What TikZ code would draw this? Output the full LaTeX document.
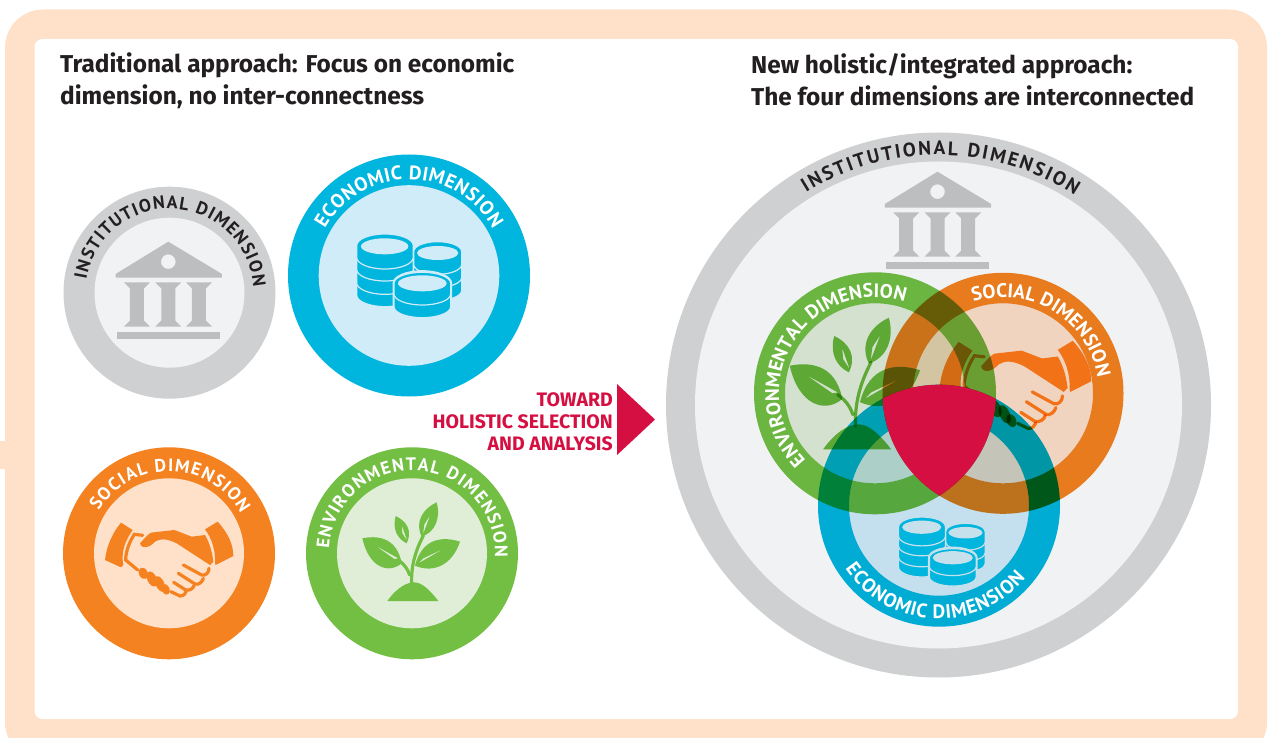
\documentclass[tikz,border=0pt]{standalone}
\usepackage{fontspec}
\setmainfont{Fira Sans}
\newfontfamily\ringfam{PT Sans}
\usetikzlibrary{decorations.text}

\definecolor{framepeach}{HTML}{FFE0C9}
\definecolor{instgray}{HTML}{CFD0D2}
\definecolor{instlight}{HTML}{F1F2F4}
\definecolor{bankgray}{HTML}{BCBEC0}
\definecolor{econblue}{HTML}{00B5DE}
\definecolor{econlight}{HTML}{D0ECF8}
\definecolor{econmuted}{HTML}{C6E0EC}
\definecolor{socorange}{HTML}{F58220}
\definecolor{soclight}{HTML}{FFE0C8}
\definecolor{handorange}{HTML}{FF8A20}
\definecolor{envgreen}{HTML}{72BF44}
\definecolor{envlight}{HTML}{E0EED8}
\definecolor{crimson}{HTML}{D50F41}
\definecolor{headgray}{HTML}{231F20}

\newcommand{\ringfont}{\ringfam\bfseries\fontsize{18}{18}\selectfont}
\newcommand{\ringfontbig}{\ringfam\bfseries\fontsize{19.5}{19.5}\selectfont}

% centre, radius, start, end, format, text
\newcommand{\ringlabel}[6]{
\path[decorate, decoration={text along path, text align={fit to path}, text={|#5|#6}}]
 ([shift={(#3:#2)}]#1) arc[start angle=#3, end angle=#4, radius=#2];
}
% centre, outer radius, inner radius, ring colour, inner colour
\newcommand{\dimdisc}[5]{
\fill[#4, even odd rule] (#1) circle[radius=#2] (#1) circle[radius=#3];
\fill[#5] (#1) circle[radius=#3];
}
% x, top, x radius, y radius, height, background
\newcommand{\coinlayer}[6]{
\filldraw[fill=econblue, draw=#6, line width=1.2pt]
 (#1-#3,#2) -- (#1-#3,#2+#5) arc[start angle=180, end angle=0, x radius=#3, y radius=#4]
 -- (#1+#3,#2) arc[start angle=0, end angle=-180, x radius=#3, y radius=#4] -- cycle;
}

\tikzset{
pics/bank/.style={code={
 \begin{scope}[scale=1/3, bankgray]
 \fill[even odd rule] (0,-145) -- (161,-48) -- (161,-37) -- (-158,-37) -- (-158,-48) -- cycle
  (0,-85) circle[radius=22];
 \foreach \colx in {-94,0,92}
  \fill (\colx-39,-23) -- (\colx+39,-23) -- (\colx+21,-5) -- (\colx+21,92) -- (\colx+39,110)
   -- (\colx-39,110) -- (\colx-21,92) -- (\colx-21,-5) -- cycle;
 \fill (-154,126) rectangle (155,147);
 \end{scope}
}},
pics/coins/.style={code={
 \begin{scope}[scale=1/3]
 \foreach \coiny in {158,119,80} {\coinlayer{278}{\coiny}{72}{30}{38}{#1}}
 \fill[#1] (278,84) ellipse[x radius=62, y radius=21];
 \foreach \coiny in {175,138,98,62} {\coinlayer{120}{\coiny}{85}{35}{35}{#1}}
 \fill[#1] (119,64) ellipse[x radius=71, y radius=24];
 \begin{scope}[line width=3pt]
 \draw[#1] (147,175) -- (147,245) arc[start angle=180, end angle=0, x radius=85, y radius=33]
  -- (317,175) arc[start angle=0, end angle=-180, x radius=85, y radius=35];
 \end{scope}
 \foreach \coiny in {213,175} {\coinlayer{232}{\coiny}{85}{33}{32}{#1}}
 \fill[#1] (232,175) ellipse[x radius=73, y radius=24];
 \end{scope}
}},
pics/hands/.style={code={
 \begin{scope}[scale=1/3, #1]
 \fill (78,38) -- (113,60) .. controls (88,95) and (78,130) .. (85,165) -- (78,172) -- (30,150)
  .. controls (35,105) and (55,65) .. (78,38) -- cycle;
 \fill (368,35) .. controls (400,70) and (415,105) .. (415,138) -- (362,165) -- (360,160)
  .. controls (362,120) and (350,85) .. (330,58) -- cycle;
 \fill (135,100) .. controls (145,90) and (155,75) .. (168,68) -- (238,60) -- (290,80) -- (330,75)
  .. controls (345,100) and (352,130) .. (355,155) -- (345,165) -- (245,100)
  .. controls (215,85) and (195,85) .. (180,95) .. controls (165,112) and (140,120) .. (135,100) -- cycle;
 \begin{scope}[line cap=round, line width=3.2pt, #1]
 \draw (143,76) -- (118,73) .. controls (100,100) and (92,130) .. (92,150) -- (128,180);
 \draw (265,165) -- (320,195) .. controls (332,198) and (342,188) .. (342,175);
 \draw (250,190) -- (300,222) .. controls (312,226) and (322,215) .. (325,205);
 \draw (236,217) -- (272,240) .. controls (285,243) and (295,235) .. (298,225);
 \draw (228,245) -- (255,258) .. controls (265,258) and (272,252) .. (274,244);
 \end{scope}
 \fill (145,190) ellipse[x radius=13, y radius=18, rotate=25];
 \fill (171,207) ellipse[x radius=14, y radius=24, rotate=25];
 \fill (195,222) ellipse[x radius=13, y radius=25, rotate=25];
 \fill (212,238) ellipse[x radius=12, y radius=17, rotate=25];
 \end{scope}
}},
pics/plant/.style={code={
 \begin{scope}[scale=1/3, envgreen]
 \fill (97,318) .. controls (130,272) and (160,262) .. (178,262)
  .. controls (200,262) and (225,285) .. (250,318) -- cycle;
 \begin{scope}[line width=3.2pt, line cap=round]
 \draw (170,265) .. controls (168,215) and (180,170) .. (205,122);
 \draw (164,240) .. controls (158,222) and (148,208) .. (130,195);
 \end{scope}
 \fill[even odd rule] (22,130) .. controls (60,122) and (125,122) .. (140,205)
  .. controls (100,238) and (42,218) .. (22,130) -- cycle
  (58,150) -- (130,190) -- (118,192) -- cycle;
 \fill[even odd rule] (315,140) .. controls (260,122) and (200,132) .. (180,212)
  .. controls (235,236) and (292,210) .. (315,140) -- cycle
  (272,158) -- (190,205) -- (205,190) -- cycle;
 \fill[even odd rule] (245,22) .. controls (205,40) and (178,80) .. (200,125)
  .. controls (240,112) and (258,70) .. (245,22) -- cycle
  (226,60) -- (204,118) -- (208,88) -- cycle;
 \fill[even odd rule] (122,63) .. controls (112,100) and (125,130) .. (155,145)
  .. controls (172,110) and (158,80) .. (122,63) -- cycle
  (140,90) -- (157,138) -- (142,115) -- cycle;
 \end{scope}
}}
}

\begin{document}
\begin{tikzpicture}[x=1pt, y=-1pt,
head/.style={anchor=north west, inner sep=0pt, align=left, text=headgray,
 font=\fontsize{24.4}{32}\selectfont\bfseries},
toward/.style={anchor=east, inner sep=0pt, align=right, text=crimson,
 font=\fontsize{19.5}{22}\selectfont\bfseries}]

\clip (0,0) rectangle (1270,738);

% frame
\fill[framepeach, rounded corners=38pt] (5,9.5) rectangle (1267,760);
\fill[framepeach] (0,441) rectangle (6,469);
\fill[white, rounded corners=8pt] (34.5,39) rectangle (1238,719);

\node[head] (lefthead) at (60,53) {Traditional approach: Focus on economic\\dimension, no inter-connectness};
\node[head] (righthead) at (751,53) {New holistic/integrated approach:\\The four dimensions are interconnected};

% left discs
\coordinate (inst) at (169.5,292.7);
\coordinate (econ) at (409,275.5);
\coordinate (soc) at (169,553.3);
\coordinate (env) at (412,553.3);

\fill[instgray] (inst) circle[radius=106];
\fill[instlight] (inst) circle[radius=75];
\fill[econblue] (econ) circle[radius=121];
\fill[econlight] (econ) circle[radius=90.3];
\fill[socorange] (soc) circle[radius=106];
\fill[soclight] (soc) circle[radius=75];
\fill[envgreen] (env) circle[radius=106];
\fill[envlight] (env) circle[radius=75];

\pic at (168.3,290) {bank};
\pic at (345,225) {coins=econlight};
\pic at (95,510) {hands=socorange};
\pic at (355,495) {plant};

\ringlabel{inst}{84}{-171}{-4}{\ringfont\color{headgray}}{INSTITUTIONAL DIMENSION}
\ringlabel{econ}{96}{-151}{-29}{\ringfontbig\color{white}}{ECONOMIC DIMENSION}
\ringlabel{soc}{82}{-149}{-29}{\ringfont\color{white}}{SOCIAL DIMENSION}
\ringlabel{env}{83}{-177}{3}{\ringfont\color{white}}{ENVIRONMENTAL DIMENSION}

% arrow
\node[toward] (towardtext) at (613,422) {TOWARD\\HOLISTIC SELECTION\\AND ANALYSIS};
\fill[crimson] (617,384) -- (655,419.5) -- (617,455) -- cycle;

% right side
\coordinate (instb) at (938.5,405);
\coordinate (envb) at (875,393.3);
\coordinate (socb) at (1003,393.3);
\coordinate (econb) at (939,505.7);

\fill[instgray] (instb) circle[radius=272.5];
\fill[instlight] (instb) circle[radius=243.5];
\pic at (937.5,220) {bank};

\begin{scope}[blend mode=multiply]
\dimdisc{envb}{121}{90}{envgreen}{envlight}
\dimdisc{socb}{120.5}{90}{socorange}{soclight}
\dimdisc{econb}{121}{90}{econblue}{econlight}
\pic[scale=1.333] at (780,308) {plant};
\pic[scale=1.18] at (928,327) {hands=handorange};
\end{scope}
\pic[scale=.825] at (889,509.6) {coins=econmuted};

\begin{scope}
\clip (envb) circle[radius=121];
\clip (socb) circle[radius=120.5];
\fill[crimson] (econb) circle[radius=121];
\end{scope}

\ringlabel{instb}{250}{-122}{-57}{\ringfontbig\color{headgray}}{INSTITUTIONAL DIMENSION}
\ringlabel{envb}{96}{-224}{-72}{\ringfontbig\color{white}}{ENVIRONMENTAL DIMENSION}
\ringlabel{socb}{96}{-108}{-10}{\ringfontbig\color{white}}{SOCIAL DIMENSION}
\ringlabel{econb}{113}{-214}{-320}{\ringfontbig\color{white}}{ECONOMIC DIMENSION}

\end{tikzpicture}
\end{document}
